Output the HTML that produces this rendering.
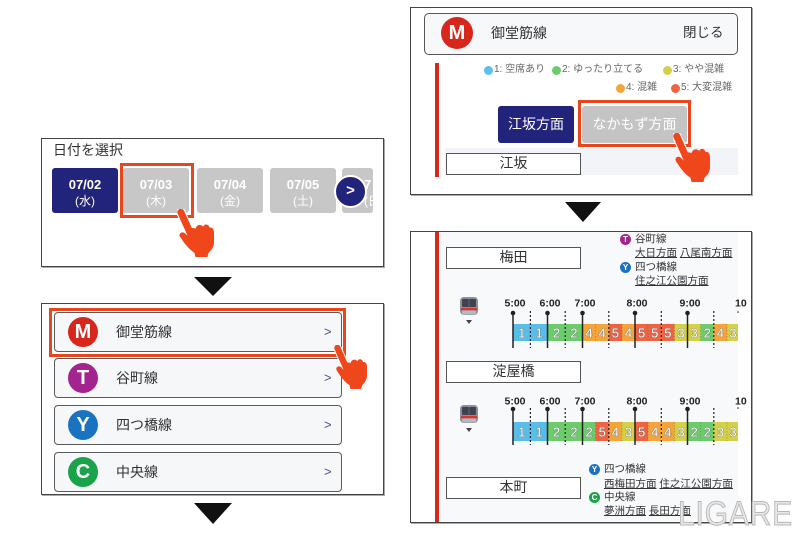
<!DOCTYPE html>
<html><head><meta charset="utf-8">
<style>
*{margin:0;padding:0;box-sizing:border-box}
body{width:800px;height:533px;background:#fff;position:relative;overflow:hidden;font-family:"Liberation Sans","Noto Sans CJK JP",sans-serif;color:#333}
.a{position:absolute;white-space:nowrap}
.box{position:absolute;border:1.5px solid #444;background:#fff;box-shadow:1px 1px 0 #aaa}
.tri{position:absolute;width:0;height:0;border-left:19px solid transparent;border-right:19px solid transparent;border-top:20px solid #111}
.chip{position:absolute;top:168px;width:66px;height:45px;border-radius:3px;background:#c7c7c7;color:#fff;text-align:center;font-weight:bold;font-size:13px;line-height:15px;padding-top:9px;overflow:hidden}
.chip span{display:block;font-weight:normal;font-size:12px;margin-top:2px}
.hl{position:absolute;border:3px solid #e8461e}
.item{position:absolute;left:54px;width:288px;height:40px;border:1.5px solid #5a5a5a;border-radius:4px;background:#f6f7f9}
.ci{position:absolute;width:30px;height:30px;border-radius:50%;color:#fff;font-weight:bold;font-size:20px;text-align:center;line-height:30px;font-family:"Liberation Sans",sans-serif}
.lt{position:absolute;left:116px;font-size:14px;line-height:20px;color:#333}
.chev{position:absolute;left:324px;font-size:13px;color:#4a4f8a;line-height:20px}
.dot{position:absolute;width:9px;height:9px;border-radius:50%}
.lg{position:absolute;font-size:10px;line-height:14px;color:#666}
.st{position:absolute;left:446px;width:135px;height:22px;border:1.5px solid #555;background:#fff;text-align:center;font-size:14px;line-height:19px;color:#333}
.mi{position:absolute;width:11px;height:11px;border-radius:50%;color:#fff;font-size:8px;font-weight:bold;text-align:center;line-height:11px;font-family:"Liberation Sans",sans-serif}
.tt{position:absolute;font-size:10.5px;line-height:13px;color:#333}
.u{text-decoration:underline}
</style></head><body>

<!-- Panel 1 -->
<div class="box" style="left:41px;top:138px;width:343px;height:129px"></div>
<div class="a" style="left:53px;top:140px;font-size:14px;line-height:20px;color:#333">日付を選択</div>
<div class="chip" style="left:52px;background:#22237a">07/02<span>(水)</span></div>
<div class="chip" style="left:123px">07/03<span>(木)</span></div>
<div class="chip" style="left:197px">07/04<span>(金)</span></div>
<div class="chip" style="left:270px">07/05<span>(土)</span></div>
<div class="chip" style="left:342px;width:31px;padding-left:22px;text-align:left">7<span>(日</span></div>
<div class="a" style="left:334px;top:175px;width:33px;height:33px;border-radius:50%;background:#22237a;border:2px solid #fff;color:#fff;font-size:15px;font-weight:bold;text-align:center;line-height:28px">&gt;</div>
<div class="hl" style="left:120px;top:163px;width:74px;height:55px"></div>
<div class="tri" style="left:194px;top:277px;border-top-width:19px"></div>

<!-- Panel 2 -->
<div class="box" style="left:41px;top:303px;width:343px;height:192px"></div>
<div class="item" style="top:312px"></div>
<div class="item" style="top:358px"></div>
<div class="item" style="top:405px"></div>
<div class="item" style="top:452px"></div>
<div class="ci" style="left:68px;top:317px;background:#d7261c">M</div>
<div class="ci" style="left:68px;top:363px;background:#a3238f">T</div>
<div class="ci" style="left:68px;top:410px;background:#1a73c0">Y</div>
<div class="ci" style="left:68px;top:457px;background:#1aa34a">C</div>
<div class="lt" style="top:322px">御堂筋線</div>
<div class="lt" style="top:368px">谷町線</div>
<div class="lt" style="top:415px">四つ橋線</div>
<div class="lt" style="top:462px">中央線</div>
<div class="chev" style="top:322px">&gt;</div>
<div class="chev" style="top:368px">&gt;</div>
<div class="chev" style="top:415px">&gt;</div>
<div class="chev" style="top:462px">&gt;</div>
<div class="hl" style="left:49px;top:308px;width:297px;height:49px;border-width:3.5px"></div>
<div class="tri" style="left:194px;top:503px;border-top-width:21px"></div>

<!-- Top right panel -->
<div class="box" style="left:410px;top:7px;width:342px;height:188px"></div>
<div class="a" style="left:424px;top:13px;width:314px;height:42px;border:1.5px solid #555;border-radius:5px;background:#f7f8fa"></div>
<div class="ci" style="left:441px;top:17px;width:32px;height:32px;line-height:32px;background:#d7261c">M</div>
<div class="a" style="left:491px;top:23px;font-size:14px;line-height:20px">御堂筋線</div>
<div class="a" style="left:683px;top:23px;font-size:13.5px;line-height:20px">閉じる</div>
<div class="a" style="left:435px;top:63px;width:3.5px;height:114px;background:#d42a1e"></div>
<div class="dot" style="left:484px;top:65.5px;background:#5bc0eb"></div>
<div class="lg" style="left:494px;top:63px">1: 空席あり</div>
<div class="dot" style="left:552px;top:65.5px;background:#6ccb6b"></div>
<div class="lg" style="left:562px;top:63px">2: ゆったり立てる</div>
<div class="dot" style="left:663px;top:65.5px;background:#d4d04a"></div>
<div class="lg" style="left:673px;top:63px">3: やや混雑</div>
<div class="dot" style="left:616px;top:83.5px;background:#f5a43c"></div>
<div class="lg" style="left:626px;top:81px">4: 混雑</div>
<div class="dot" style="left:671px;top:83.5px;background:#ef6343"></div>
<div class="lg" style="left:681px;top:81px">5: 大変混雑</div>
<div class="a" style="left:498px;top:106px;width:76px;height:37px;border-radius:3px;background:#22237a;color:#fff;font-size:14px;line-height:37px;text-align:center">江坂方面</div>
<div class="a" style="left:582px;top:106px;width:105px;height:37px;border-radius:3px;background:#c4c4c4;color:#fff;font-size:14px;line-height:37px;text-align:center">なかもず方面</div>
<div class="hl" style="left:578px;top:99.5px;width:113px;height:47px;border-width:3.5px"></div>
<div class="a" style="left:445px;top:148px;width:293px;height:27px;background:#f3f4f7"></div>
<div class="st" style="top:153px">江坂</div>
<div class="tri" style="left:565px;top:202px;border-left-width:18.5px;border-right-width:18.5px;border-top-width:20px"></div>

<!-- Bottom right panel -->
<div class="box" style="left:410px;top:231px;width:342px;height:292px"></div>
<div class="a" style="left:438px;top:232px;width:300px;height:289px;background:#f8f9fb"></div>
<div class="a" style="left:435px;top:232px;width:3.5px;height:290px;background:#d42a1e"></div>
<div class="st" style="top:247px">梅田</div>
<div class="st" style="top:361px">淀屋橋</div>
<div class="st" style="top:477px">本町</div>

<div class="mi" style="left:620px;top:233.5px;background:#a3238f">T</div>
<div class="tt" style="left:635px;top:232.5px">谷町線</div>
<div class="tt" style="left:635px;top:247px"><span class="u">大日方面</span> <span class="u">八尾南方面</span></div>
<div class="mi" style="left:620px;top:262px;background:#1a73c0">Y</div>
<div class="tt" style="left:635px;top:261px">四つ橋線</div>
<div class="tt" style="left:635px;top:275px"><span class="u">住之江公園方面</span></div>

<div class="mi" style="left:589px;top:463.5px;background:#1a73c0">Y</div>
<div class="tt" style="left:604px;top:462.5px">四つ橋線</div>
<div class="tt" style="left:604px;top:477.5px"><span class="u">西梅田方面</span> <span class="u">住之江公園方面</span></div>
<div class="mi" style="left:589px;top:492px;background:#1aa34a">C</div>
<div class="tt" style="left:604px;top:491px">中央線</div>
<div class="tt" style="left:604px;top:505px"><span class="u">夢洲方面</span> <span class="u">長田方面</span></div>

<svg class="a" style="left:0;top:0" width="800" height="533" viewBox="0 0 800 533">
<defs>
<g id="train">
<rect x="0" y="0" width="18" height="18" rx="4" fill="#8c8f96"/>
<rect x="2" y="2" width="14" height="8" rx="1" fill="#3d4350"/>
<line x1="9" y1="2" x2="9" y2="10" stroke="#6a6f7a" stroke-width="0.8"/>
<rect x="1" y="11" width="16" height="2.2" fill="#e2302a"/>
<rect x="2" y="13.5" width="14" height="4" rx="1.5" fill="#b6b9be"/>
<polygon points="6,23 12,23 9,27" fill="#444"/>
</g>
</defs>
<use href="#train" x="460" y="297"/>
<use href="#train" x="460" y="405"/>

<g font-family="Liberation Sans, sans-serif" font-weight="bold" font-size="10.5" fill="#222" text-anchor="middle">
<text x="515" y="306.5">5:00</text><text x="550" y="306.5">6:00</text><text x="585" y="306.5">7:00</text><text x="637" y="306.5">8:00</text><text x="690" y="306.5">9:00</text><text x="735" y="306.5" text-anchor="start">10</text>
<text x="515" y="404.5">5:00</text><text x="550" y="404.5">6:00</text><text x="585" y="404.5">7:00</text><text x="637" y="404.5">8:00</text><text x="690" y="404.5">9:00</text><text x="735" y="404.5" text-anchor="start">10</text>
</g>

<!-- Row 1 cells -->
<g>
<rect x="513" y="324" width="17.4" height="17" fill="#58bde9"/>
<rect x="530.4" y="324" width="17.4" height="17" fill="#58bde9"/>
<rect x="547.8" y="324" width="17.4" height="17" fill="#6ccb6b"/>
<rect x="565.2" y="324" width="17.4" height="17" fill="#6ccb6b"/>
<rect x="582.5" y="324" width="13.2" height="17" fill="#f5a43c"/>
<rect x="595.6" y="324" width="13.2" height="17" fill="#f5a43c"/>
<rect x="608.8" y="324" width="13.2" height="17" fill="#ef6343"/>
<rect x="621.9" y="324" width="13.2" height="17" fill="#f5a43c"/>
<rect x="635" y="324" width="13.2" height="17" fill="#ef6343"/>
<rect x="648.1" y="324" width="13.2" height="17" fill="#ef6343"/>
<rect x="661.3" y="324" width="13.2" height="17" fill="#ef6343"/>
<rect x="674.4" y="324" width="13.2" height="17" fill="#d4d04a"/>
<rect x="687.5" y="324" width="13.2" height="17" fill="#d4d04a"/>
<rect x="700.6" y="324" width="13.2" height="17" fill="#6ccb6b"/>
<rect x="713.8" y="324" width="13.2" height="17" fill="#f5a43c"/>
<rect x="726.9" y="324" width="11.1" height="17" fill="#d4d04a"/>
</g>
<!-- Row 2 cells -->
<g>
<rect x="513" y="422" width="17.4" height="19" fill="#58bde9"/>
<rect x="530.4" y="422" width="17.4" height="19" fill="#58bde9"/>
<rect x="547.8" y="422" width="17.4" height="19" fill="#6ccb6b"/>
<rect x="565.2" y="422" width="17.4" height="19" fill="#6ccb6b"/>
<rect x="582.5" y="422" width="13.2" height="19" fill="#6ccb6b"/>
<rect x="595.6" y="422" width="13.2" height="19" fill="#ef6343"/>
<rect x="608.8" y="422" width="13.2" height="19" fill="#f5a43c"/>
<rect x="621.9" y="422" width="13.2" height="19" fill="#d4d04a"/>
<rect x="635" y="422" width="13.2" height="19" fill="#ef6343"/>
<rect x="648.1" y="422" width="13.2" height="19" fill="#f5a43c"/>
<rect x="661.3" y="422" width="13.2" height="19" fill="#f5a43c"/>
<rect x="674.4" y="422" width="13.2" height="19" fill="#d4d04a"/>
<rect x="687.5" y="422" width="13.2" height="19" fill="#6ccb6b"/>
<rect x="700.6" y="422" width="13.2" height="19" fill="#6ccb6b"/>
<rect x="713.8" y="422" width="13.2" height="19" fill="#d4d04a"/>
<rect x="726.9" y="422" width="11.1" height="19" fill="#d4d04a"/>
</g>

<g font-family="Liberation Sans, sans-serif" font-size="13" fill="#fff" stroke="#666" stroke-width="0.7" paint-order="stroke" text-anchor="middle">
<text x="521.7" y="337.5">1</text><text x="539.1" y="337.5">1</text><text x="556.5" y="337.5">2</text><text x="573.9" y="337.5">2</text>
<text x="589.1" y="337.5">4</text><text x="602.2" y="337.5">4</text><text x="615.4" y="337.5">5</text><text x="628.5" y="337.5">4</text>
<text x="641.6" y="337.5">5</text><text x="654.7" y="337.5">5</text><text x="667.9" y="337.5">5</text><text x="681" y="337.5">3</text>
<text x="694.1" y="337.5">3</text><text x="707.2" y="337.5">2</text><text x="720.4" y="337.5">4</text><text x="733" y="337.5">3</text>
<text x="521.7" y="436.5">1</text><text x="539.1" y="436.5">1</text><text x="556.5" y="436.5">2</text><text x="573.9" y="436.5">2</text>
<text x="589.1" y="436.5">2</text><text x="602.2" y="436.5">5</text><text x="615.4" y="436.5">4</text><text x="628.5" y="436.5">3</text>
<text x="641.6" y="436.5">5</text><text x="654.7" y="436.5">4</text><text x="667.9" y="436.5">4</text><text x="681" y="436.5">3</text>
<text x="694.1" y="436.5">2</text><text x="707.2" y="436.5">2</text><text x="720.4" y="436.5">3</text><text x="733" y="436.5">3</text>
</g>

<g stroke="#000" stroke-opacity="0.25" stroke-width="0.8" stroke-dasharray="1.5 1.5">
<line x1="595.6" y1="324" x2="595.6" y2="341"/><line x1="621.9" y1="324" x2="621.9" y2="341"/><line x1="648.1" y1="324" x2="648.1" y2="341"/><line x1="674.4" y1="324" x2="674.4" y2="341"/><line x1="700.6" y1="324" x2="700.6" y2="341"/><line x1="726.9" y1="324" x2="726.9" y2="341"/>
<line x1="595.6" y1="422" x2="595.6" y2="441"/><line x1="621.9" y1="422" x2="621.9" y2="441"/><line x1="648.1" y1="422" x2="648.1" y2="441"/><line x1="674.4" y1="422" x2="674.4" y2="441"/><line x1="700.6" y1="422" x2="700.6" y2="441"/><line x1="726.9" y1="422" x2="726.9" y2="441"/>
</g>

<g stroke="#222" stroke-width="1.5">
<line x1="513" y1="313" x2="513" y2="348"/><line x1="547.5" y1="313" x2="547.5" y2="348"/><line x1="582.5" y1="313" x2="582.5" y2="348"/><line x1="635" y1="313" x2="635" y2="348"/><line x1="687.5" y1="313" x2="687.5" y2="348"/>
<line x1="513" y1="409" x2="513" y2="445"/><line x1="547.5" y1="409" x2="547.5" y2="445"/><line x1="582.5" y1="409" x2="582.5" y2="445"/><line x1="635" y1="409" x2="635" y2="445"/><line x1="687.5" y1="409" x2="687.5" y2="445"/>
</g>
<g fill="#222">
<circle cx="513" cy="313" r="2.3"/><circle cx="547.5" cy="313" r="2.3"/><circle cx="582.5" cy="313" r="2.3"/><circle cx="635" cy="313" r="2.3"/><circle cx="687.5" cy="313" r="2.3"/>
<circle cx="513" cy="409" r="2.3"/><circle cx="547.5" cy="409" r="2.3"/><circle cx="582.5" cy="409" r="2.3"/><circle cx="635" cy="409" r="2.3"/><circle cx="687.5" cy="409" r="2.3"/>
<circle cx="738" cy="312" r="0.8"/><circle cx="738" cy="408" r="0.8"/>
</g>
<g stroke="#222" stroke-width="1.2" stroke-dasharray="2 2">
<line x1="530.4" y1="311" x2="530.4" y2="348"/><line x1="565.2" y1="311" x2="565.2" y2="348"/><line x1="608.8" y1="311" x2="608.8" y2="348"/><line x1="661.3" y1="311" x2="661.3" y2="348"/><line x1="713.8" y1="311" x2="713.8" y2="348"/>
<line x1="530.4" y1="408" x2="530.4" y2="445"/><line x1="565.2" y1="408" x2="565.2" y2="445"/><line x1="608.8" y1="408" x2="608.8" y2="445"/><line x1="661.3" y1="408" x2="661.3" y2="445"/><line x1="713.8" y1="408" x2="713.8" y2="445"/>
</g>

<defs>
<g id="hand">
<line x1="3.5" y1="3" x2="13" y2="25" stroke="#fff" stroke-width="8.5" stroke-linecap="round"/>
<path d="M10,24 C10,19 14,17 17,19 C18,15 22,14 24,17 C25,14 29,14 30,18 C32,17 34,19 34,23 L34,32 C34,37 31,40 29,42 L28,46 L17,46 L16,42 C13,40 10,37 7,33 L3,27 C1,24 4,21 7,23 L10,26 Z" fill="#f0461c"/>
<line x1="3.5" y1="3" x2="13" y2="25" stroke="#f0461c" stroke-width="6.5" stroke-linecap="round"/>
</g>
</defs>
<svg x="177" y="209" width="37" height="48" viewBox="0 0 34 46" preserveAspectRatio="none"><use href="#hand"/></svg>
<svg x="334" y="345" width="33" height="44" viewBox="0 0 34 46" preserveAspectRatio="none"><use href="#hand"/></svg>
<svg x="673" y="133" width="37" height="49" viewBox="0 0 34 46" preserveAspectRatio="none"><use href="#hand"/></svg>
</svg>

<div class="a" style="left:678px;top:495px;font-family:'Liberation Sans',sans-serif;font-size:34px;line-height:38px;letter-spacing:1px;color:#e8e8e8;-webkit-text-stroke:1px #b8b8b8;transform:scaleX(0.88);transform-origin:0 0">LIGARE</div>

</body></html>
